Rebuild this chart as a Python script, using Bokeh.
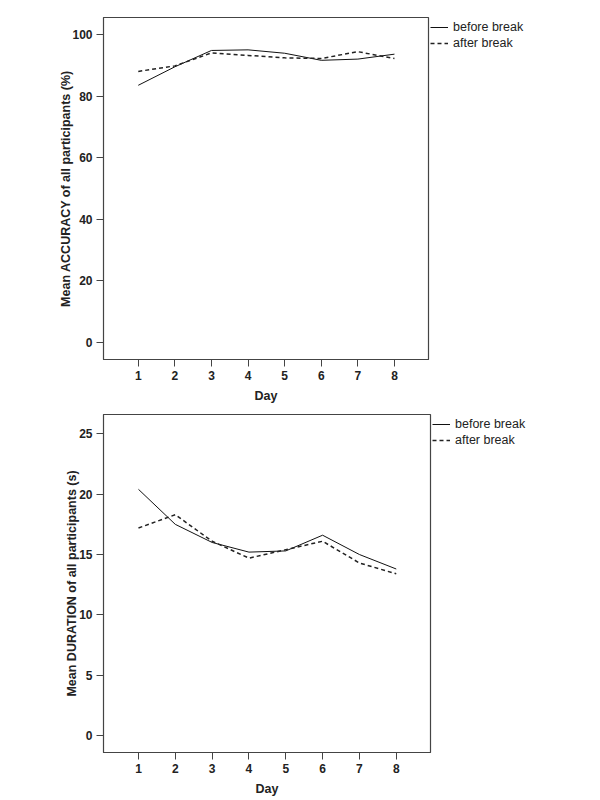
from bokeh.plotting import figure
from bokeh.models import Legend, LegendItem, FixedTicker, Range1d
from bokeh.layouts import column
from bokeh.embed import file_html
from bokeh.resources import INLINE

days = [1, 2, 3, 4, 5, 6, 7, 8]
acc_before = [83.5, 89.5, 94.8, 95.0, 93.9, 91.6, 92.0, 93.6]
acc_after = [88.0, 89.8, 94.0, 93.2, 92.4, 92.2, 94.4, 92.2]
dur_before = [20.4, 17.5, 16.0, 15.2, 15.3, 16.6, 15.0, 13.8]
dur_after = [17.2, 18.3, 16.1, 14.7, 15.4, 16.1, 14.3, 13.4]
acc_ticks = [0, 20, 40, 60, 80, 100]
dur_ticks = [0, 5, 10, 15, 20, 25]
series_names = ["before break", "after break"]
x_label = "Day"
acc_label = "Mean ACCURACY of all participants (%)"
dur_label = "Mean DURATION of all participants (s)"

FONT = "Liberation Sans"
AX = "#444444"


def make(before, after, yticks, ylabel, yr, fw, fh, top_border, right_border,
         bottom_border, ylab_standoff):
    p = figure(frame_width=fw, frame_height=fh, output_backend="svg", toolbar_location=None,
               x_range=Range1d(0.05, 8.93), y_range=Range1d(*yr),
               min_border_left=103, min_border_right=right_border,
               min_border_top=top_border, min_border_bottom=bottom_border,
               outline_line_color=AX, outline_line_width=1.2)
    p.grid.visible = False
    r1 = p.line(days, before, line_color="#111111", line_width=1)
    r2 = p.line(days, after, line_color="#222222", line_width=1.5, line_dash="4 3")
    p.xaxis.ticker = FixedTicker(ticks=days)
    p.yaxis.ticker = FixedTicker(ticks=yticks)
    p.xaxis.axis_label = x_label
    p.yaxis.axis_label = ylabel
    for ax in (p.xaxis, p.yaxis):
        ax.major_tick_out = 7
        ax.major_tick_in = 0
        ax.minor_tick_out = 0
        ax.minor_tick_in = 0
        ax.axis_line_color = AX
        ax.major_tick_line_color = AX
        ax.major_label_text_font = FONT
        ax.major_label_text_font_style = "bold"
        ax.major_label_text_font_size = "12px"
        ax.major_label_text_color = "#222222"
        ax.axis_label_text_font = FONT
        ax.axis_label_text_font_style = "bold"
        ax.axis_label_text_font_size = "12.5px"
        ax.axis_label_text_color = "#222222"
        ax.major_label_standoff = 4
    p.xaxis.axis_label_standoff = 6
    p.yaxis.axis_label_standoff = ylab_standoff
    legend = Legend(items=[LegendItem(label=series_names[0], renderers=[r1]),
                           LegendItem(label=series_names[1], renderers=[r2])],
                    location="top_left", orientation="vertical",
                    margin=2, padding=0, spacing=0,
                    glyph_width=18, glyph_height=16, label_height=16,
                    label_standoff=5, border_line_color=None,
                    background_fill_alpha=0,
                    label_text_font=FONT, label_text_font_size="12.5px",
                    label_text_color="#222222")
    p.add_layout(legend, "right")
    return p


p1 = make(acc_before, acc_after, acc_ticks, acc_label, (-5.5, 105.5), 325, 342, 17, 160, 41, -4)
p2 = make(dur_before, dur_after, dur_ticks, dur_label, (-1.4, 26.6), 327, 338, 9, 158, 45, -3)

layout = column(p1, p2, spacing=0)
open("out.html", "w").write(file_html(layout, INLINE))
